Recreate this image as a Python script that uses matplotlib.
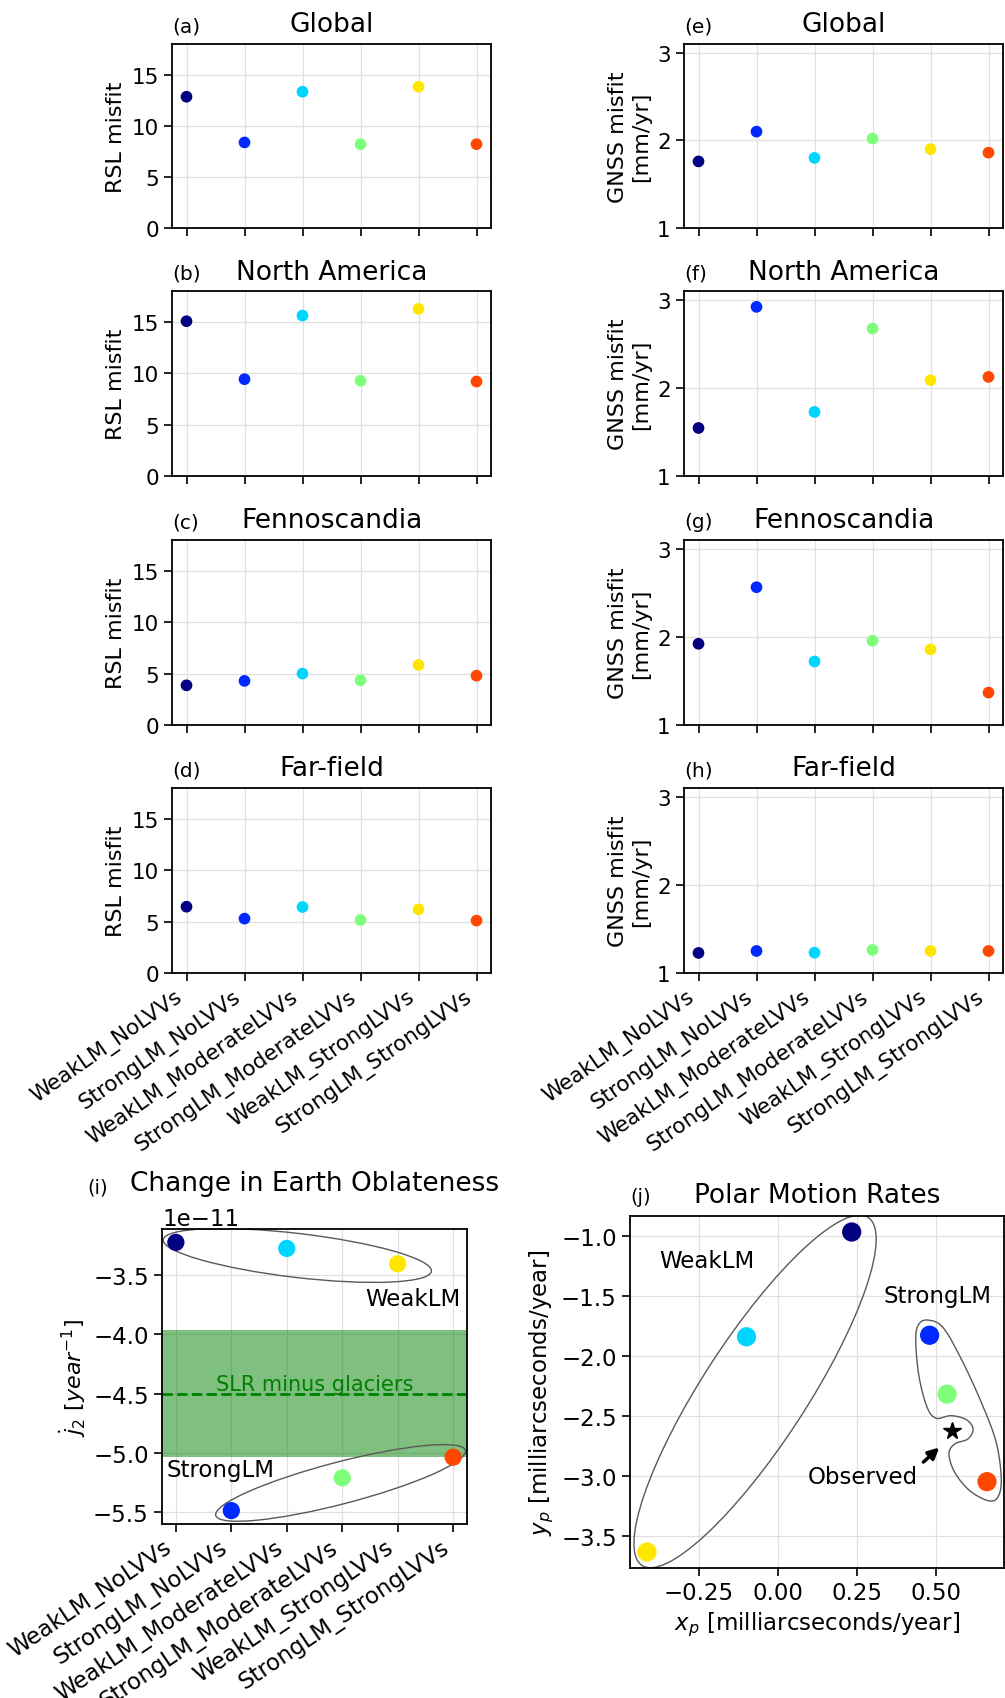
import numpy as np
import matplotlib
matplotlib.use("Agg")
import matplotlib.pyplot as plt
from matplotlib.patches import Ellipse, PathPatch
from matplotlib.path import Path
from matplotlib import transforms

# ---------------------------------------------------------------- data
models = ["WeakLM_NoLVVs", "StrongLM_NoLVVs", "WeakLM_ModerateLVVs",
          "StrongLM_ModerateLVVs", "WeakLM_StrongLVVs", "StrongLM_StrongLVVs"]

regions = ["Global", "North America", "Fennoscandia", "Far-field"]
rsl_letters = ["(a)", "(b)", "(c)", "(d)"]
gnss_letters = ["(e)", "(f)", "(g)", "(h)"]

rsl_global = [12.84, 8.37, 13.33, 8.20, 13.82, 8.20]
rsl_north_america = [15.06, 9.42, 15.61, 9.26, 16.26, 9.19]
rsl_fennoscandia = [3.86, 4.29, 5.00, 4.35, 5.84, 4.80]
rsl_far_field = [6.45, 5.29, 6.42, 5.16, 6.19, 5.10]

gnss_global = [1.76, 2.10, 1.80, 2.02, 1.90, 1.86]
gnss_north_america = [1.545, 2.92, 1.727, 2.674, 2.087, 2.125]
gnss_fennoscandia = [1.922, 2.564, 1.721, 1.956, 1.858, 1.368]
gnss_far_field = [1.228, 1.250, 1.231, 1.262, 1.250, 1.250]

rsl_misfits = [rsl_global, rsl_north_america, rsl_fennoscandia, rsl_far_field]
gnss_misfits = [gnss_global, gnss_north_america, gnss_fennoscandia, gnss_far_field]

# rate of change of J2 [1/yr]
j2_dot = [-3.227e-11, -5.486e-11, -3.278e-11, -5.210e-11, -3.407e-11, -5.036e-11]
slr_j2_dot = -4.5e-11
slr_j2_dot_err = 0.535e-11

# polar motion rates [mas/yr]
xp_rate = [0.233, 0.479, -0.099, 0.534, -0.413, 0.660]
yp_rate = [-0.967, -1.827, -1.840, -2.318, -3.633, -3.047]
observed_xp = 0.550
observed_yp = -2.623

# outline grouping the StrongLM polar-motion solutions (data coords)
strong_outline_x = [0.474, 0.521, 0.579, 0.642, 0.689, 0.705, 0.694, 0.663,
                    0.605, 0.558, 0.540, 0.558, 0.600, 0.616, 0.595, 0.547,
                    0.500, 0.471, 0.445, 0.435, 0.445]
strong_outline_y = [-1.701, -1.762, -2.026, -2.386, -2.719, -3.024, -3.177,
                    -3.205, -3.121, -2.969, -2.816, -2.733, -2.691, -2.608,
                    -2.531, -2.497, -2.519, -2.428, -2.164, -1.859, -1.734]

# ---------------------------------------------------------------- style
colors = plt.cm.jet(np.arange(len(models)) / len(models))
x = np.arange(len(models))

W, H = 1005, 1699
fig = plt.figure(figsize=(W / 100, H / 100), dpi=100)


def add_axes_px(left, top, right, bottom):
    return fig.add_axes([left / W, 1 - bottom / H, (right - left) / W,
                         (bottom - top) / H])


def style_axes(ax, tick_size):
    ax.grid(True, color="0.88", lw=0.9)
    ax.set_axisbelow(True)
    for sp in ax.spines.values():
        sp.set_linewidth(1.3)
    ax.tick_params(length=6, width=1.2, labelsize=tick_size)


def ring(ax, center, width_in, height_in, angle):
    """Ellipse sized in inches, centred on a data point."""
    tr = fig.dpi_scale_trans + transforms.ScaledTranslation(
        center[0], center[1], ax.transData)
    e = Ellipse((0, 0), width_in, height_in, angle=angle, transform=tr,
                fill=False, ec="0.35", lw=1.0, zorder=2)
    e.set_clip_path(ax.patch)
    ax.add_artist(e)


def closed_spline(xs, ys, n=30):
    pts = np.column_stack([xs, ys])
    m = len(pts)
    out = []
    for i in range(m):
        p0, p1, p2, p3 = pts[(i - 1) % m], pts[i], pts[(i + 1) % m], pts[(i + 2) % m]
        t = np.linspace(0, 1, n, endpoint=False)[:, None]
        seg = 0.5 * ((2 * p1) + (-p0 + p2) * t
                     + (2 * p0 - 5 * p1 + 4 * p2 - p3) * t ** 2
                     + (-p0 + 3 * p1 - 3 * p2 + p3) * t ** 3)
        out.append(seg)
    out = np.vstack(out)
    return np.vstack([out, out[:1]])


# ---------------------------------------------------------------- misfit panels
rows_px = [(45, 229), (292, 477), (541, 726), (789, 974)]
for r, (top, bottom) in enumerate(rows_px):
    last = r == len(rows_px) - 1
    # RSL column
    ax = add_axes_px(172, top, 491, bottom)
    ax.scatter(x, rsl_misfits[r], c=colors, s=55, zorder=3)
    ax.set_ylim(0, 18)
    ax.set_yticks([0, 5, 10, 15])
    ax.set_xticks(x)
    if last:
        ax.set_xticklabels(models, rotation=35, ha="right", fontsize=16.5)
    else:
        ax.set_xticklabels([])
    ax.set_ylabel("RSL misfit", fontsize=16)
    ax.set_title(regions[r], fontsize=19, pad=9)
    ax.set_title(rsl_letters[r], loc="left", fontsize=14.5, pad=9)
    style_axes(ax, 15.5)

    # GNSS column
    ax = add_axes_px(684, top, 1003, bottom)
    ax.scatter(x, gnss_misfits[r], c=colors, s=55, zorder=3)
    ax.set_ylim(1, 3.1)
    ax.set_yticks([1, 2, 3])
    ax.set_xticks(x)
    if last:
        ax.set_xticklabels(models, rotation=35, ha="right", fontsize=16.5)
    else:
        ax.set_xticklabels([])
    ax.set_ylabel("GNSS misfit\n[mm/yr]", fontsize=16)
    ax.set_title(regions[r], fontsize=19, pad=9)
    ax.set_title(gnss_letters[r], loc="left", fontsize=14.5, pad=9)
    style_axes(ax, 15.5)

# ---------------------------------------------------------------- (i) J2 rate
ax = add_axes_px(162, 1230, 467, 1525)
ax.axhspan(slr_j2_dot - slr_j2_dot_err, slr_j2_dot + slr_j2_dot_err,
           color="green", alpha=0.5, lw=0, zorder=1)
ax.axhline(slr_j2_dot, color="green", ls="--", lw=2, zorder=2)
ax.text(2.5, slr_j2_dot, "SLR minus glaciers", color="green", fontsize=15,
        ha="center", va="bottom", zorder=2)
ax.scatter(x, j2_dot, c=colors, s=130, zorder=3)
ring(ax, (2.19, -3.337e-11), 2.70, 0.44, -6.7)
ring(ax, (2.97, -5.253e-11), 2.58, 0.42, 14.6)
ax.text(4.28, -3.697e-11, "WeakLM", fontsize=16.5, ha="center", va="center")
ax.text(0.80, -5.14e-11, "StrongLM", fontsize=16.5, ha="center", va="center")
ax.set_xticks(x)
ax.set_xticklabels(models, rotation=34, ha="right", fontsize=14.5)
ax.set_ylabel(r"$\dot{j}_2\ [year^{-1}]$", fontsize=16)
ax.set_title("Change in Earth Oblateness", fontsize=19, pad=28)
style_axes(ax, 16.5)
ax.tick_params(axis="x", pad=2)
ax.yaxis.get_offset_text().set_fontsize(16.5)
fig.text(87 / W, 1 - 1193 / H, "(i)", fontsize=14, va="baseline")

# ---------------------------------------------------------------- (j) polar motion
ax = add_axes_px(630, 1217, 1004, 1569)
ax.scatter(xp_rate, yp_rate, c=colors, s=165, zorder=3)
ax.plot(observed_xp, observed_yp, marker="*", color="k", ms=13, ls="none",
        zorder=4)
ring(ax, (-0.072, -2.295), 4.15, 1.04, 57.0)
outline = closed_spline(strong_outline_x, strong_outline_y)
blob = PathPatch(Path(outline), fill=False, ec="0.35", lw=1.0, zorder=2,
                 transform=ax.transData)
blob.set_clip_path(ax.patch)
ax.add_artist(blob)
ax.text(-0.223, -1.207, "WeakLM", fontsize=16.5, ha="center", va="center")
ax.text(0.505, -1.499, "StrongLM", fontsize=16.5, ha="center", va="center")
ax.text(0.269, -3.002, "Observed", fontsize=16.5, ha="center", va="center")
ax.annotate("", xy=(0.516, -2.747), xytext=(0.453, -2.899),
            arrowprops=dict(arrowstyle="-|>", color="k", lw=2.5,
                            mutation_scale=16))
ax.set_xlabel(r"$x_p$ [milliarcseconds/year]", fontsize=16.5)
ax.set_ylabel(r"$y_p$ [milliarcseconds/year]", fontsize=16.5)
ax.set_title("Polar Motion Rates", fontsize=19, pad=10)
ax.set_title("(j)", loc="left", fontsize=14, pad=10)
style_axes(ax, 16.5)

fig.savefig("out.png", dpi=100)
